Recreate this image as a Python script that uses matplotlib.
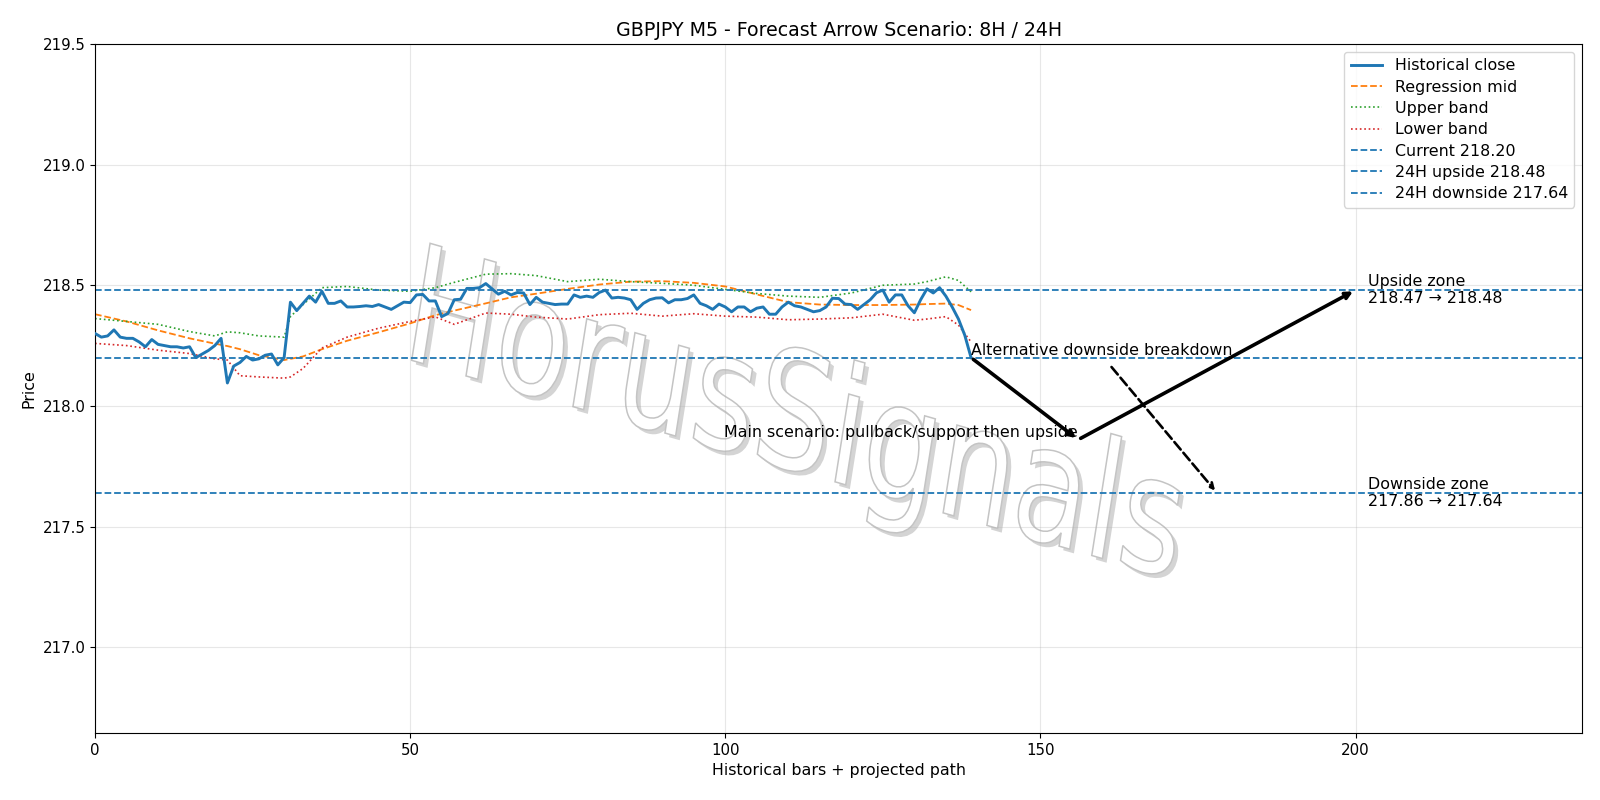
import matplotlib
matplotlib.use('Agg')
import matplotlib.pyplot as plt
import matplotlib.patheffects as pe
from matplotlib.textpath import TextPath
from matplotlib.patches import PathPatch
from matplotlib.font_manager import FontProperties
from matplotlib.transforms import Affine2D, IdentityTransform

# Historical close (M5 bars 0..139)
close = [
    218.300, 218.285, 218.290, 218.315, 218.285, 218.280, 218.280, 218.265, 218.245, 218.275,
    218.255, 218.250, 218.245, 218.245, 218.240, 218.245, 218.200, 218.215, 218.230, 218.250,
    218.280, 218.095, 218.165, 218.180, 218.205, 218.190, 218.195, 218.210, 218.215, 218.170,
    218.200, 218.430, 218.395, 218.425, 218.455, 218.430, 218.475, 218.425, 218.425, 218.435,
    218.410, 218.410, 218.412, 218.415, 218.412, 218.420, 218.410, 218.400, 218.415, 218.430,
    218.428, 218.460, 218.462, 218.435, 218.435, 218.370, 218.383, 218.440, 218.442, 218.487,
    218.487, 218.490, 218.507, 218.485, 218.463, 218.475, 218.460, 218.470, 218.468, 218.420,
    218.450, 218.430, 218.425, 218.420, 218.422, 218.422, 218.460, 218.450, 218.455, 218.450,
    218.470, 218.480, 218.447, 218.450, 218.447, 218.440, 218.400, 218.425, 218.440, 218.447,
    218.448, 218.427, 218.440, 218.440, 218.445, 218.460, 218.425, 218.415, 218.400, 218.422,
    218.410, 218.390, 218.410, 218.410, 218.390, 218.405, 218.410, 218.380, 218.380, 218.410,
    218.430, 218.415, 218.410, 218.400, 218.390, 218.395, 218.410, 218.446, 218.445, 218.422,
    218.420, 218.400, 218.420, 218.440, 218.469, 218.480, 218.430, 218.460, 218.460, 218.415,
    218.386, 218.440, 218.485, 218.468, 218.490, 218.455, 218.410, 218.360, 218.293, 218.200,
]

# regression channel, read at these bars
band_x = [0, 5, 10, 15, 19, 21, 23, 26, 30, 31, 33, 36, 40, 45, 50, 54, 57, 62, 66, 70,
          75, 80, 85, 90, 95, 100, 105, 110, 115, 120, 125, 130, 132, 135, 137, 139]
mid = [218.380, 218.350, 218.313, 218.280, 218.258, 218.248, 218.235, 218.210, 218.190, 218.195,
       218.205, 218.235, 218.270, 218.305, 218.342, 218.376, 218.395, 218.425, 218.450, 218.465,
       218.485, 218.503, 218.515, 218.517, 218.510, 218.495, 218.462, 218.430, 218.420, 218.418,
       218.418, 218.420, 218.422, 218.424, 218.418, 218.397]
upper = [218.362, 218.350, 218.338, 218.308, 218.290, 218.307, 218.303, 218.290, 218.285, 218.370,
         218.420, 218.490, 218.495, 218.480, 218.475, 218.490, 218.512, 218.546, 218.548, 218.540,
         218.515, 218.525, 218.515, 218.508, 218.500, 218.483, 218.466, 218.455, 218.450, 218.468,
         218.500, 218.505, 218.515, 218.535, 218.520, 218.473]
lower = [218.259, 218.250, 218.231, 218.217, 218.195, 218.190, 218.125, 218.120, 218.115, 218.120,
         218.155, 218.240, 218.285, 218.322, 218.350, 218.369, 218.338, 218.385, 218.380, 218.368,
         218.360, 218.378, 218.384, 218.372, 218.382, 218.372, 218.368, 218.357, 218.360, 218.365,
         218.380, 218.355, 218.360, 218.370, 218.335, 218.265]

current = 218.20
up_target = 218.48
down_target = 217.64
up_start = 218.47
down_start = 217.86
pullback = 217.86

# projected path points (bar index, price)
main_path_x = [139, 156, 200]
main_path_y = [current, pullback, up_target]
alt_x = [161, 178]
alt_y = [218.17, down_target]

FS = 11.4

fig, ax = plt.subplots(figsize=(16, 8), dpi=100)
fig.subplots_adjust(left=0.0594, right=0.989, top=0.945, bottom=0.084)

ax.plot(range(len(close)), close, color='tab:blue', lw=2.1, label='Historical close', zorder=3)
ax.plot(band_x, mid, color='tab:orange', ls='--', lw=1.3, label='Regression mid')
ax.plot(band_x, upper, color='tab:green', ls=':', lw=1.2, label='Upper band')
ax.plot(band_x, lower, color='tab:red', ls=':', lw=1.2, label='Lower band')
ax.axhline(current, color='tab:blue', ls='--', lw=1.3, label=f'Current {current:.2f}')
ax.axhline(up_target, color='tab:blue', ls='--', lw=1.3, label=f'24H upside {up_target:.2f}')
ax.axhline(down_target, color='tab:blue', ls='--', lw=1.3, label=f'24H downside {down_target:.2f}')

# main scenario arrows
for i in range(len(main_path_x) - 1):
    ax.annotate('', xy=(main_path_x[i + 1], main_path_y[i + 1]),
                xytext=(main_path_x[i], main_path_y[i]),
                arrowprops=dict(arrowstyle='->', color='black', lw=2.6))
ax.annotate('', xy=(alt_x[1], alt_y[1]), xytext=(alt_x[0], alt_y[0]),
            arrowprops=dict(arrowstyle='->', color='black', lw=1.9, ls='--'))

ax.text(main_path_x[1], pullback, 'Main scenario: pullback/support then upside',
        ha='right', va='bottom', fontsize=FS)
ax.text(main_path_x[0], current, 'Alternative downside breakdown',
        ha='left', va='bottom', fontsize=FS)
ax.text(202, up_target, f'Upside zone\n{up_start:.2f} \u2192 {up_target:.2f}',
        ha='left', va='center', fontsize=FS)
ax.text(202, down_target, f'Downside zone\n{down_start:.2f} \u2192 {down_target:.2f}',
        ha='left', va='center', fontsize=FS)

# watermark: rotated, then stretched vertically
tp = TextPath((0, 0), 'HorusSignals', size=100, prop=FontProperties(family='DejaVu Sans'))
ext = tp.get_extents()
s = 775 / ext.width
tr = (Affine2D().scale(s).rotate_deg(-12).scale(1, 1.35).translate(400, 443)
      + IdentityTransform())
wm = PathPatch(tp, transform=tr, facecolor='white', edgecolor='#c4c4c4', lw=1.1, zorder=0.9,
               path_effects=[pe.SimplePatchShadow(offset=(3, -3), shadow_rgbFace='#a0a0a0', alpha=0.45),
                             pe.Normal()])
ax.add_patch(wm)

ax.set_xlim(0, 236)
ax.set_ylim(216.645, 219.5)
ax.set_title('GBPJPY M5 - Forecast Arrow Scenario: 8H / 24H', fontsize=13.7)
ax.set_xlabel('Historical bars + projected path', fontsize=FS)
ax.set_ylabel('Price', fontsize=FS)
ax.tick_params(labelsize=10.8)
ax.grid(True, alpha=0.3)
ax.legend(loc='upper right', fontsize=FS, labelspacing=0.4)

fig.savefig('out.png', dpi=100)
plt.close(fig)
